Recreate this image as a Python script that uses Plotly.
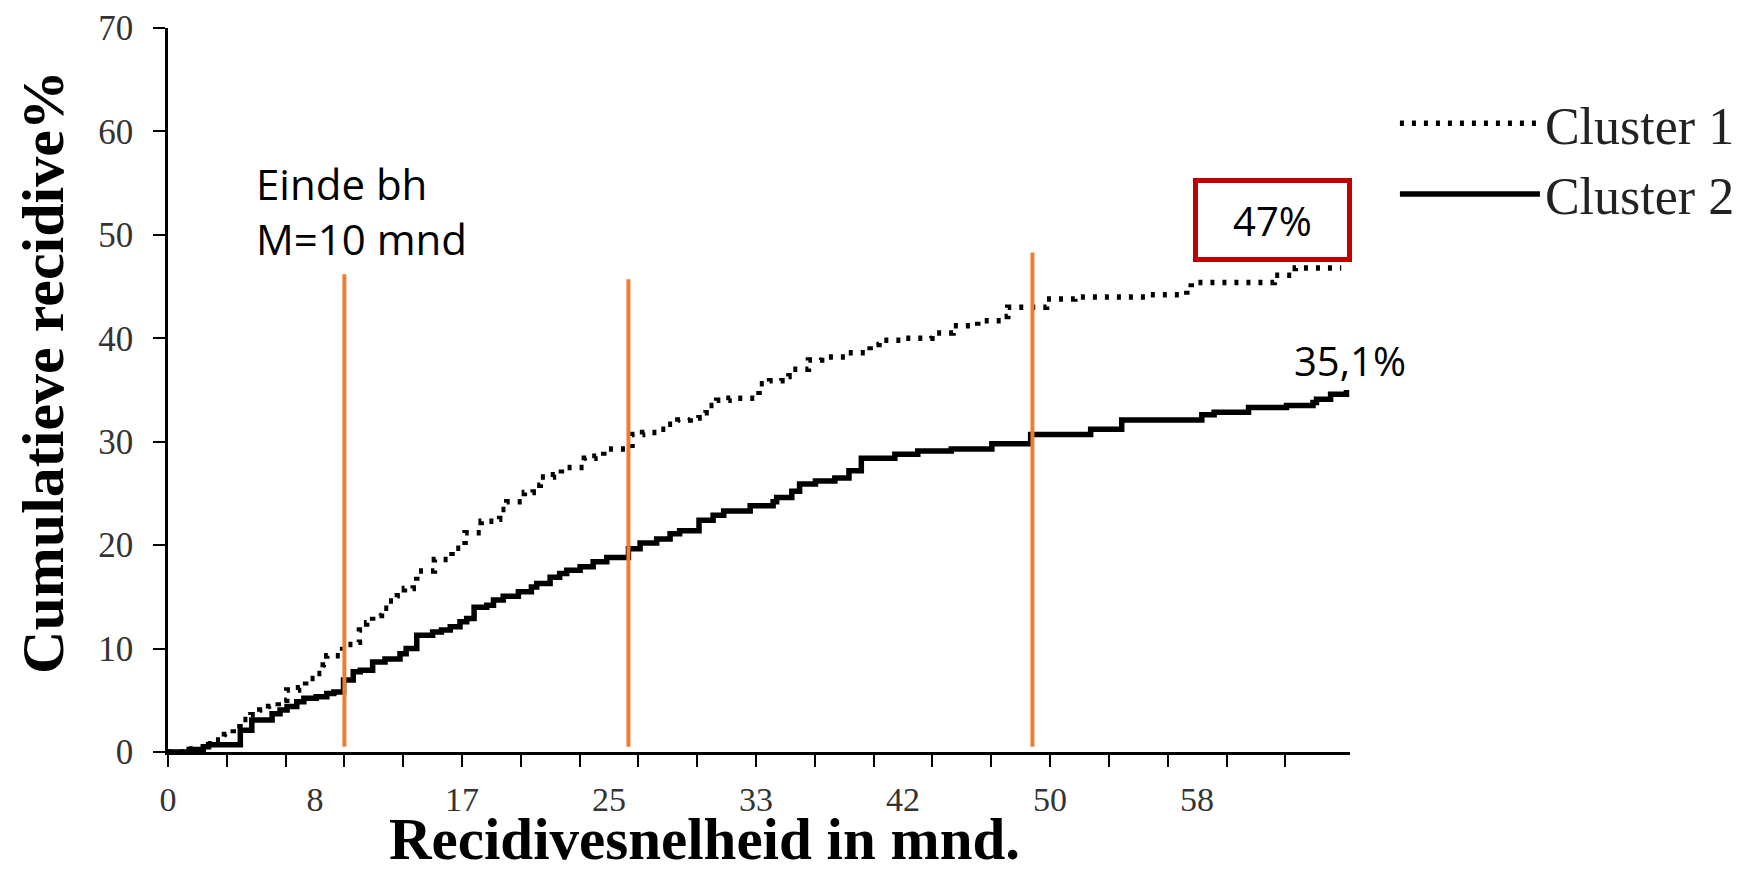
import plotly.graph_objects as go

# ---- data ----
c1_t = [0, 1.0, 2.2, 2.66, 3.2, 3.7, 4.08, 4.7, 5.2, 5.7, 6.25, 6.73, 7.4, 7.8, 8.33, 8.8, 9.0,
        9.9, 10.7, 10.85, 11.26, 11.6, 12.1, 12.5, 13.0, 13.4, 13.9, 14.1, 15.1, 16.1, 16.84,
        17.75, 18.45, 18.8, 19.2, 20.2, 20.7, 21.1, 21.85, 22.3, 23.6, 24.2, 24.7, 26.3, 26.9,
        27.7, 28.3, 28.9, 29.6, 30.1, 30.5, 31.1, 31.8, 33.5, 34.1, 34.8, 35.2, 36.3, 37.05,
        38.4, 39.8, 40.3, 41.8, 43.3, 44.5, 45.9, 47.3, 47.6, 49.8, 51.4, 55.5, 57.75, 58.0,
        62.7, 63.9, 66.5]
c1_v = [0, 0.3, 0.8, 1.16, 1.7, 2.3, 3.15, 3.6, 4.05, 4.4, 5.0, 6.0, 6.2, 7.1, 7.6, 8.4, 9.3,
        10.4, 10.6, 11.8, 12.5, 13.2, 13.9, 14.6, 15.1, 15.8, 16.2, 17.5, 18.6, 19.7, 21.2,
        22.3, 22.5, 23.45, 24.2, 25.1, 25.8, 26.6, 26.8, 27.5, 28.4, 28.6, 29.3, 30.7, 30.9,
        31.2, 31.7, 32.1, 32.3, 32.8, 33.5, 34.0, 34.2, 35.6, 35.9, 36.3, 37.0, 37.9, 38.2,
        38.6, 39.4, 39.8, 40.0, 40.5, 41.2, 41.7, 42.1, 43.0, 43.8, 44.0, 44.2, 44.6, 45.4,
        46.1, 46.8, 46.8]

c2_t = [0, 1.2, 2.0, 2.3, 4.1, 4.75, 5.9, 6.35, 6.75, 7.3, 7.7, 8.4, 9.0, 9.4, 9.95, 10.5,
        10.9, 11.6, 12.3, 13.15, 13.5, 14.1, 15.0, 15.5, 16.0, 16.55, 16.93, 17.35, 18.07,
        18.45, 19.0, 19.86, 20.6, 20.9, 21.66, 22.2, 22.6, 23.36, 24.1, 24.87, 26.1, 26.76,
        27.7, 28.46, 29.0, 30.1, 30.9, 31.5, 33.0, 34.3, 34.5, 35.36, 35.8, 36.7, 37.8, 38.6,
        39.3, 41.2, 42.5, 44.4, 46.7, 48.9, 52.3, 54.06, 58.6, 59.3, 61.25, 63.4, 64.9, 65.1,
        65.9, 66.8]
c2_v = [0, 0.25, 0.5, 0.7, 2.1, 3.1, 3.7, 4.05, 4.4, 4.86, 5.2, 5.35, 5.66, 5.8, 6.95, 7.75,
        7.9, 8.7, 9.0, 9.5, 10.0, 11.3, 11.6, 11.8, 12.1, 12.6, 12.9, 14.0, 14.2,
        14.7, 15.06, 15.5, 15.96, 16.3, 16.9, 17.25, 17.57, 17.9, 18.4, 18.8, 19.66, 20.2,
        20.6, 21.1, 21.4, 22.4, 22.9, 23.3, 23.8, 24.2, 24.6, 25.2, 25.9, 26.2, 26.5, 27.2,
        28.4, 28.8, 29.1, 29.3, 29.8, 30.7, 31.2, 32.1, 32.6, 32.85, 33.3, 33.5, 33.8, 34.1,
        34.6, 35.0]

# orange reference lines (months) and their top values (%)
ref_t = [10.0, 26.1, 49.0]
ref_top = [46.2, 45.7, 48.3]
ref_bottom = 0.5

# axis ticks
x_minor_ticks = [i * 10 / 3 for i in range(20)]
x_label_vals = [i * 25 / 3 for i in range(8)]
x_label_text = ["0", "8", "17", "25", "33", "42", "50", "58"]
y_ticks = [0, 10, 20, 30, 40, 50, 60, 70]

SERIF = "Liberation Serif, Times New Roman, serif"
SANS = "Open Sans, Noto Sans, sans-serif"

fig = go.Figure()

fig.add_trace(go.Scatter(
    x=c1_t, y=c1_v, mode="lines", line_shape="hv", name="Cluster 1",
    line=dict(color="black", width=5.5, dash="4px,8px"),
))
fig.add_trace(go.Scatter(
    x=c2_t, y=c2_v, mode="lines", line_shape="hv", name="Cluster 2",
    line=dict(color="black", width=5.5),
))

ox, oy = [], []
for t, top in zip(ref_t, ref_top):
    ox += [t, t, None]
    oy += [ref_bottom, top, None]
fig.add_trace(go.Scatter(
    x=ox, y=oy, mode="lines", showlegend=False,
    line=dict(color="#ED7D31", width=4), hoverinfo="skip",
))

# invisible trace on label axis
fig.add_trace(go.Scatter(x=[0, 67], y=[None, None], xaxis="x2", showlegend=False,
                         mode="lines", hoverinfo="skip"))

fig.update_layout(
    width=1743, height=873,
    margin=dict(l=168, r=393, t=28, b=121, autoexpand=False),
    paper_bgcolor="white", plot_bgcolor="white",
    xaxis=dict(
        range=[0, 67], showgrid=False, zeroline=False,
        showline=True, linecolor="black", linewidth=2.5,
        tickmode="array", tickvals=x_minor_ticks, showticklabels=False,
        ticks="outside", ticklen=12, tickwidth=2, tickcolor="black",
        automargin=False,
    ),
    xaxis2=dict(
        range=[0, 67], overlaying="x", anchor="y", side="bottom",
        showgrid=False, zeroline=False, showline=False,
        tickmode="array", tickvals=x_label_vals, ticktext=x_label_text,
        ticks="", ticklabelstandoff=24,
        tickfont=dict(family=SERIF, size=34, color="#333333"),
        automargin=False,
    ),
    yaxis=dict(
        range=[0, 70], showgrid=False, zeroline=False,
        showline=True, linecolor="black", linewidth=2.5,
        tickmode="array", tickvals=y_ticks,
        ticks="outside", ticklen=12, tickwidth=2, tickcolor="black",
        ticklabelstandoff=13,
        tickfont=dict(family=SERIF, size=35, color="#333333"),
        automargin=False,
    ),
    legend=dict(
        x=1.038, xanchor="left", y=0.924, yanchor="top",
        font=dict(family=SERIF, size=52, color="#222222"),
        itemwidth=140, bgcolor="rgba(0,0,0,0)", tracegroupgap=0,
    ),
    showlegend=True,
)

annotations = [
    dict(text="<b>Recidivesnelheid in mnd.</b>", xref="paper", yref="paper",
         x=0.4543, y=-0.1205, xanchor="center", yanchor="middle", showarrow=False,
         font=dict(family=SERIF, size=59, color="black")),
    dict(text="<b>Cumulatieve recidive%</b>", xref="paper", yref="paper",
         x=-0.1058, y=0.5249, xanchor="center", yanchor="middle", showarrow=False,
         textangle=-90, font=dict(family=SERIF, size=60, color="black")),
    dict(text="Einde bh<br>M=10 mnd", xref="x", yref="y", x=4.9, y=52.3,
         xanchor="left", yanchor="middle", align="left", showarrow=False,
         font=dict(family=SANS, size=42, color="black")),
    dict(text="47%", xref="x", yref="y", x=62.6, y=51.4, xanchor="center", yanchor="middle",
         showarrow=False, font=dict(family=SANS, size=40, color="black"),
         width=145, height=70, borderpad=2, borderwidth=5, bordercolor="#C00000",
         bgcolor="white"),
    dict(text="35,1%", xref="x", yref="y", x=67.0, y=37.9, xanchor="center", yanchor="middle",
         showarrow=False, font=dict(family=SANS, size=40, color="black")),
]
fig.update_layout(annotations=annotations)

fig.write_html("out.html", config={"displayModeBar": False},
               post_script="document.body.style.margin='0';")
